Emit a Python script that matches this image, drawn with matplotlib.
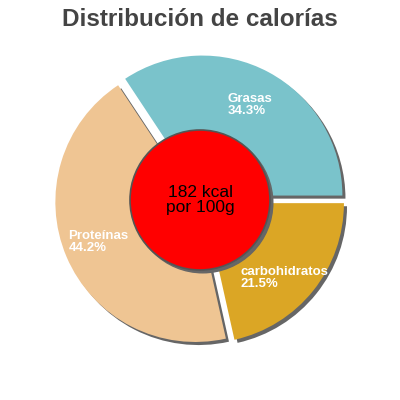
import matplotlib
matplotlib.use("Agg")
from matplotlib import pyplot as plt
from matplotlib.patches import Circle

plt.rcParams['font.family'] = ['Liberation Sans', 'DejaVu Sans']

etiquetas = ["Grasas", "Proteínas", "carbohidratos"]
porcentajes = [34.3, 44.2, 21.5]
colores = ["#7ac3cb", "#efc593", "#dba625"]
kcal = 182

titulo = "Distribución de calorías"

fig = plt.figure(figsize=(4, 4), dpi=100)
ax = fig.add_axes([0, 0, 1, 1])

# 1 unidad = 140 px
lim = 200 / 140

explode = [0.036] * len(porcentajes)

# sombra
ax.pie(porcentajes, explode=explode, startangle=0, counterclock=True,
       colors=["#666666"] * 3, center=(0.022, -0.022), radius=1,
       wedgeprops=dict(linewidth=0), frame=True)
# pastel
ax.pie(porcentajes, explode=explode, startangle=0, counterclock=True,
       colors=colores, center=(0, 0), radius=1,
       wedgeprops=dict(linewidth=0), frame=True)

ax.set_xlim(-lim, lim)
ax.set_ylim(-lim, lim)
ax.set_aspect("equal")
ax.axis("off")

# circulo central
ax.add_patch(Circle((0.02, -0.02), 0.5, color="#666666", zorder=5))
ax.add_patch(Circle((0, 0), 0.5, facecolor="#ff0000", edgecolor="#555555",
                    linewidth=1.2, zorder=6))
ax.text(0, 0, f"{kcal} kcal\npor 100g", ha="center", va="center",
        fontsize=12.5, color="black", zorder=7, linespacing=0.95)

# etiquetas
pos = [(0.2, 0.68), (-0.94, -0.3), (0.29, -0.56)]
for (x, y), e, p in zip(pos, etiquetas, porcentajes):
    ax.text(x, y, f"{e}\n{p}%", ha="left", va="center", fontsize=9.5,
            color="white", fontweight="bold", zorder=7, linespacing=1.0)

fig.text(0.5, 1 - 20 / 400, titulo, ha="center", va="center",
         fontsize=17.5, fontweight="bold", color="#444444")

fig.savefig("out.png", dpi=100)
